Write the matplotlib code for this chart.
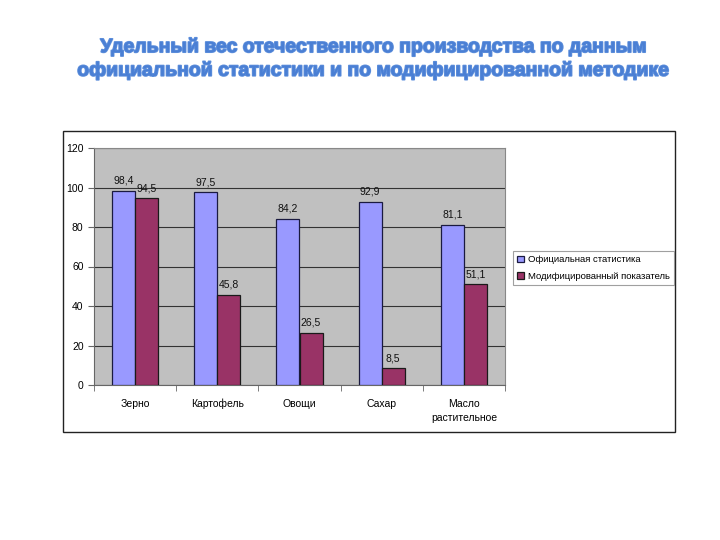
import numpy as np
from matplotlib import pyplot as plt
from matplotlib.patches import Rectangle
import matplotlib.patheffects as pe

categories = ["Зерно", "Картофель", "Овощи", "Сахар", "Масло\nрастительное"]
official = [98.4, 97.5, 84.2, 92.9, 81.1]
modified = [94.5, 45.8, 26.5, 8.5, 51.1]
series_names = ["Официальная статистика", "Модифицированный показатель"]
title = "Удельный вес отечественного производства по данным\nофициальной статистики и по модифицированной методике"

plt.rcParams["font.family"] = ["Liberation Sans", "DejaVu Sans"]

fig = plt.figure(figsize=(7.2, 5.4), dpi=100)

# Outer chart frame
fig.patches.append(Rectangle((63 / 720, 1 - 432 / 540), 612 / 720, 301 / 540,
                             transform=fig.transFigure, fill=False,
                             edgecolor="#222222", linewidth=1.0))

ax = fig.add_axes([94 / 720, 1 - 385 / 540, 411 / 720, 237 / 540])
ax.set_facecolor("#C0C0C0")

x = np.arange(len(categories))
w = 0.28
b1 = ax.bar(x - w / 2, official, w, color="#9999FF", edgecolor="#1a1a40", linewidth=0.9,
            label=series_names[0], zorder=3)
b2 = ax.bar(x + w / 2, modified, w, color="#993366", edgecolor="#1a1a1a", linewidth=0.9,
            label=series_names[1], zorder=3)

def fmt(v):
    return ("%.1f" % v).replace(".", ",")

for bars, vals in ((b1, official), (b2, modified)):
    for r, v in zip(bars, vals):
        ax.text(r.get_x() + r.get_width() / 2, v + 2.5, fmt(v), ha="center", va="bottom",
                fontsize=7.5, color="#111111")

ax.set_xlim(-0.5, len(categories) - 0.5)
ax.set_ylim(0, 120)
ax.set_yticks(range(0, 121, 20))
ax.yaxis.grid(True, color="#333333", linewidth=0.8, zorder=0)
ax.set_axisbelow(True)
ax.tick_params(axis="y", labelsize=7.5, length=4, color="#666666")

ax.set_xticks(x)
ax.set_xticklabels(categories, fontsize=7.5, linespacing=1.5)
ax.tick_params(axis="x", length=0, pad=10)
ax.set_xticks(np.arange(-0.5, len(categories), 1), minor=True)
ax.tick_params(axis="x", which="minor", length=4, color="#666666")

for s in ["top", "right"]:
    ax.spines[s].set_color("#888888")
for s in ["left", "bottom"]:
    ax.spines[s].set_color("#666666")

leg = fig.legend(loc="center left", bbox_to_anchor=(513 / 720, 1 - 268 / 540),
                 fontsize=6.8, frameon=True, fancybox=False, edgecolor="#888888",
                 handlelength=0.7, handleheight=0.7, handletextpad=0.4,
                 borderpad=0.45, labelspacing=0.75, borderaxespad=0)
leg.get_frame().set_linewidth(0.8)

fig.text(0.519, 1 - 59 / 540, title, ha="center", va="center", fontsize=14,
         fontweight="bold", color="#4A7FD4", linespacing=1.4,
         path_effects=[pe.withStroke(linewidth=1.2, foreground="#5F90DC")])

fig.savefig("out.png", dpi=100)
